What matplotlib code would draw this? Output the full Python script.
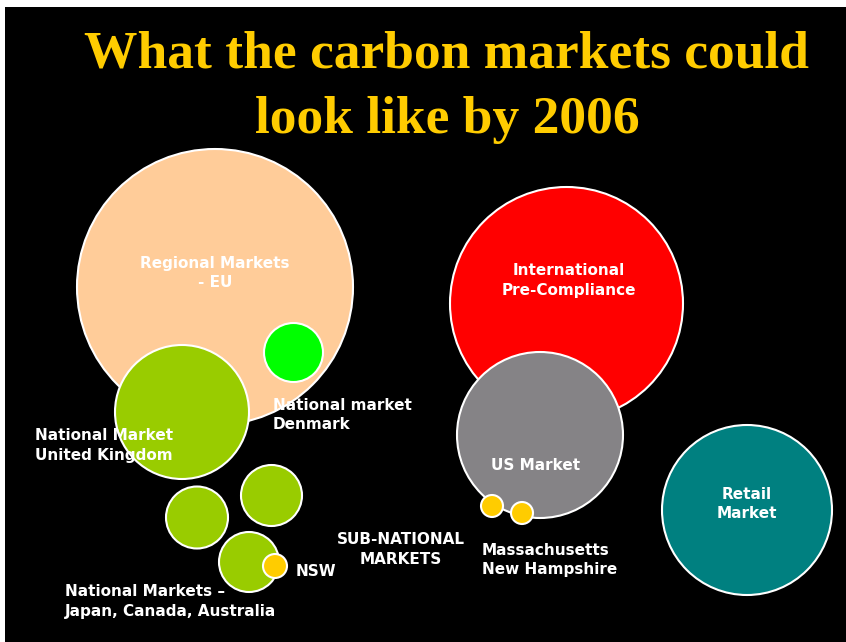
import matplotlib
matplotlib.use("Agg")
import matplotlib.pyplot as plt
from matplotlib.patches import Circle

# Bubble data (pixel-like layout units)
names = ["Regional Markets - EU", "National market Denmark", "National Market UK",
         "International Pre-Compliance", "US Market", "Massachusetts", "New Hampshire",
         "Retail Market", "Japan", "Canada", "Australia", "NSW"]
cx = [215, 293.5, 182, 566.5, 540, 492, 522, 747, 197, 271.5, 249, 275]
cy = [287, 352.5, 412, 303.5, 435, 506, 513, 510, 517.5, 495.5, 562, 566]
radius = [138, 29.5, 67, 116.5, 83, 11, 11, 85, 31, 30.5, 30, 12]
colors = ["#FFCC99", "#00FF00", "#99CC00", "#FF0000", "#858386", "#FFCC00", "#FFCC00",
          "#008080", "#99CC00", "#99CC00", "#99CC00", "#FFCC00"]

# Labels
label_text = ["Regional Markets\n- EU", "International\nPre-Compliance", "National market\nDenmark",
              "National Market\nUnited Kingdom", "US Market", "Retail\nMarket",
              "SUB-NATIONAL\nMARKETS", "Massachusetts\nNew Hampshire", "NSW",
              "National Markets \u2013\nJapan, Canada, Australia"]
label_x = [215, 569, 273, 35, 536, 747, 401, 482, 296, 65]
label_y = [273, 280.5, 415, 445.5, 465, 504, 549.5, 560, 572, 601.5]
label_ha = ["center", "center", "left", "left", "center", "center", "center", "left", "left", "left"]

title_lines = ["What the carbon markets could", "look like by 2006"]

W, H = 846, 642
fig = plt.figure(figsize=(W / 100, H / 100), dpi=100, facecolor="white")
x0, y0 = 5, 7
ax = fig.add_axes([x0 / W, 0, (W - x0) / W, (H - y0) / H])
ax.set_facecolor("black")
ax.set_xlim(x0, W)
ax.set_ylim(H, y0)
ax.set_axis_off()
ax.add_patch(plt.Rectangle((x0, y0), W - x0, H - y0, facecolor="black", zorder=0))

for i in range(len(names)):
    ax.add_patch(Circle((cx[i], cy[i]), radius[i], facecolor=colors[i],
                        edgecolor="white", linewidth=1.5, zorder=2 + i))

for t, x, y, ha in zip(label_text, label_x, label_y, label_ha):
    ax.text(x, y, t, color="white", fontsize=11, fontweight="bold", family="DejaVu Sans",
            ha=ha, va="center", linespacing=1.4, zorder=30)

ax.text(447, 55, title_lines[0], color="#FFCC00", fontsize=38.5, fontweight="bold",
        family="Liberation Serif", ha="center", va="center", zorder=30)
ax.text(447, 120, title_lines[1], color="#FFCC00", fontsize=38.5, fontweight="bold",
        family="Liberation Serif", ha="center", va="center", zorder=30)

fig.savefig("out.png", dpi=100, facecolor="white")
